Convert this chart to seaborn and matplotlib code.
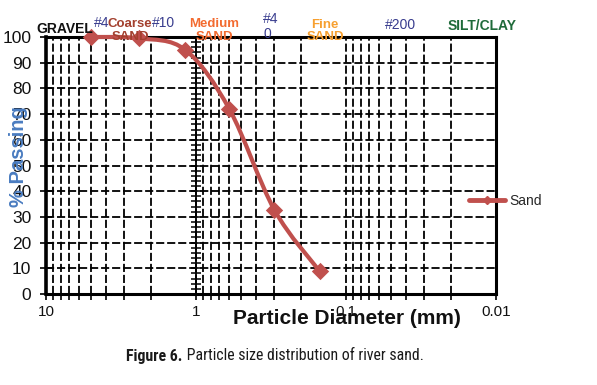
import numpy as np
import pandas as pd
import seaborn as sns
import matplotlib
matplotlib.use('Agg')
import matplotlib.pyplot as plt
from matplotlib.path import Path
from matplotlib.patches import PathPatch
from matplotlib.lines import Line2D
from matplotlib.ticker import FixedLocator, FuncFormatter, MultipleLocator, NullFormatter, LogLocator
from matplotlib import font_manager
from matplotlib.font_manager import FontProperties

# ---------------- data ----------------
diameter_mm = [5.0, 2.4, 1.18, 0.6, 0.3, 0.15]
percent_passing = [100.0, 99.5, 95.0, 72.0, 32.7, 8.9]
series_name = "Sand"
x_ticks = [10, 1, 0.1, 0.01]
y_ticks = list(range(0, 101, 10))
zone_labels = ["GRAVEL", "Coarse\nSAND", "Medium\nSAND", "Fine\nSAND", "SILT/CLAY"]
sieve_labels = ["#4", "#10", "#4\n0", "#200"]
x_title = "Particle Diameter (mm)"
y_title = "% Passing"
caption_bold = "Figure 6."
caption_rest = " Particle size distribution of river sand."

# ---------------- style ----------------
sns.set_style('white')
plt.rcParams['font.family'] = ['Liberation Sans', 'DejaVu Sans']

RED = '#C0504D'
W, H = 597, 385


def fx(px):
    return px / W


def fy(py):
    return 1 - py / H


def find_condensed(bold):
    pref = ['Liberation Sans Narrow', 'Roboto Condensed', 'Open Sans Condensed',
            'Noto Sans', 'Open Sans', 'DejaVu Sans', 'Roboto', 'Lato', 'Inter']
    best = None
    for f in font_manager.fontManager.ttflist:
        name = f.name
        st = str(f.stretch).lower()
        cond = ('narrow' in name.lower()) or ('condensed' in name.lower()) or \
               ('condensed' in st and 'extra' not in st and 'ultra' not in st)
        if not cond:
            continue
        if str(f.style).lower() != 'normal':
            continue
        try:
            w = int(f.weight)
        except Exception:
            w = {'bold': 700, 'normal': 400, 'regular': 400}.get(str(f.weight).lower(), 400)
        target = 700 if bold else 400
        rank = pref.index(name) if name in pref else len(pref)
        score = (rank, abs(w - target), 0 if st == 'condensed' else 1)
        if best is None or score < best[0]:
            best = (score, f.fname)
    return best[1] if best else None


fig = plt.figure(figsize=(W / 100, H / 100), dpi=100)
ax = fig.add_axes([fx(46), fy(294), (496 - 46) / W, (294 - 37) / H])

df = pd.DataFrame({'d': diameter_mm, 'p': percent_passing})

ax.set_xscale('log')
ax.set_xlim(10, 0.01)
ax.set_ylim(0, 100)

# smoothed line (Bezier through the data points, in log-x space)
P = np.column_stack([np.log10(df['d'].to_numpy()), df['p'].to_numpy()])
n = len(P)
verts = [P[0]]
codes = [Path.MOVETO]
for i in range(n - 1):
    p0 = P[i - 1] if i > 0 else P[i]
    p1 = P[i]
    p2 = P[i + 1]
    p3 = P[i + 2] if i + 2 < n else P[i + 1]
    c1 = p1 + (p2 - p0) / 6
    c2 = p2 - (p3 - p1) / 6
    verts += [c1, c2, p2]
    codes += [Path.CURVE4] * 3
verts = np.array(verts)
verts[:, 0] = 10 ** verts[:, 0]
patch = PathPatch(Path(verts, codes), facecolor='none', edgecolor=RED, lw=3.0,
                  clip_on=False, zorder=5, capstyle='round', joinstyle='round')
ax.add_patch(patch)

sns.scatterplot(data=df, x='d', y='p', ax=ax, marker='D', s=78, color=RED,
                edgecolor=RED, linewidth=0, legend=False, zorder=6, clip_on=False)
ax.set_xlabel('')
ax.set_ylabel('')

# grid
dash = (0, (4.5, 1.6))
ax.xaxis.set_major_locator(FixedLocator(x_ticks))
ax.xaxis.set_minor_locator(LogLocator(base=10, subs=np.arange(2, 10)))
ax.xaxis.set_major_formatter(FuncFormatter(lambda v, p: f'{v:g}'))
ax.xaxis.set_minor_formatter(NullFormatter())
ax.yaxis.set_major_locator(FixedLocator(y_ticks))
ax.grid(which='both', axis='x', ls=dash, lw=1.3, color='black')
ax.grid(which='major', axis='y', ls=dash, lw=1.3, color='black')
ax.set_axisbelow(True)

ax.tick_params(axis='x', which='both', direction='out', length=4, width=1.2,
               bottom=True, labelsize=11, pad=4, colors='black')
ax.tick_params(axis='y', which='major', direction='inout', length=8, width=1.2,
               left=True, labelsize=12.5, pad=6.5, colors='black')
for lab in ax.get_xticklabels() + ax.get_yticklabels():
    lab.set_color('#111111')

for s in ['top', 'right', 'bottom']:
    ax.spines[s].set_linewidth(2.2)
    ax.spines[s].set_color('black')
ax.spines['left'].set_linewidth(2.6)
ax.spines['left'].set_color('black')

# vertical axis crossing at x = 1
sec = ax.secondary_yaxis(1 / 3)
sec.yaxis.set_major_locator(MultipleLocator(10))
sec.yaxis.set_minor_locator(MultipleLocator(2))
sec.tick_params(which='both', direction='inout', length=7, width=1.1,
                labelleft=False, labelright=False, colors='black')
for s in sec.spines.values():
    s.set_linewidth(1.3)
    s.set_color('black')

# axis titles
fig.text(fx(19), fy(157), y_title, rotation=90, color='#4A7CC0', fontsize=14.5,
         fontweight='bold', ha='center', va='center')
fig.text(fx(347), fy(318), x_title, fontsize=15, fontweight='bold',
         ha='center', va='center', color='#111111')

# zone labels
zone_pos = [(65, 29), (130, 30.5), (214, 30.5), (325, 31), (482, 26)]
zone_col = ['#111111', '#A3402E', '#F36B30', '#F7A030', '#1F6B3A']
zone_size = [10, 9.5, 9.5, 9.5, 10]
for t, (px, py), c, fs in zip(zone_labels, zone_pos, zone_col, zone_size):
    fig.text(fx(px), fy(py), t, color=c, fontsize=fs, fontweight='bold',
             ha='center', va='center', linespacing=1.1, multialignment='center', zorder=10)

sieve_pos = [(101.5, 23), (164, 23), (263, 26.5), (400, 25)]
sieve_ha = ['center', 'center', 'left', 'center']
for t, (px, py), h in zip(sieve_labels, sieve_pos, sieve_ha):
    fig.text(fx(px), fy(py), t, color='#383C8E', fontsize=10, ha=h, va='center',
             linespacing=1.1, multialignment='left', zorder=10)

# legend
handle = Line2D([], [], color=RED, lw=3.5, marker='D', markersize=4)
fig.legend(handles=[handle], labels=[series_name], loc='center left',
           bbox_to_anchor=(fx(469), fy(201)), frameon=False, handlelength=2.6,
           handletextpad=0.3, fontsize=10, borderpad=0, borderaxespad=0)

# caption (condensed face if one is installed), fitted to the reference width
fb = find_condensed(True)
fr = find_condensed(False)
size = 11.5
if fb:
    pb = FontProperties(fname=fb, size=size)
else:
    pb = FontProperties(family=['Liberation Sans', 'DejaVu Sans'], weight='bold', size=size)
if fr:
    pr = FontProperties(fname=fr, size=size)
else:
    pr = FontProperties(family=['Liberation Sans', 'DejaVu Sans'], size=size)

t1 = fig.text(fx(125), fy(356), caption_bold, fontproperties=pb,
              ha='left', va='center', color='#1A1A1A')
t2 = fig.text(fx(200), fy(356), caption_rest, fontproperties=pr,
              ha='left', va='center', color='#1A1A1A')
r = fig.canvas.get_renderer()
w_total = t1.get_window_extent(renderer=r).width + t2.get_window_extent(renderer=r).width
new_size = float(np.clip(size * 300 / w_total, 9.5, 13))
pb.set_size(new_size)
pr.set_size(new_size)
t1.set_fontproperties(pb)
t2.set_fontproperties(pr)
b1 = t1.get_window_extent(renderer=r)
b2 = t2.get_window_extent(renderer=r)
x0 = 275 - (b1.width + b2.width) / 2
t1.set_x(x0 / W)
t2.set_x((x0 + b1.width) / W)

fig.savefig('out.png', dpi=100)
